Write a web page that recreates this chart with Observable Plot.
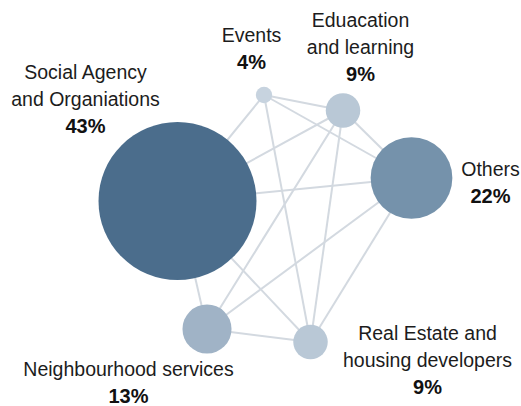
<!DOCTYPE html>
<html>
<head>
<meta charset="utf-8">
<script src="https://cdn.jsdelivr.net/npm/d3@7"></script>
<script src="https://cdn.jsdelivr.net/npm/@observablehq/plot@0.6"></script>
<style>
  html, body { margin: 0; padding: 0; background: #ffffff; }
  #chart svg { display: block; }
</style>
</head>
<body>
<div id="chart"></div>
<script>
// Categories and their shares (%)
const names = ["Social Agency\nand Organiations", "Events", "Eduacation\nand learning", "Others", "Real Estate and\nhousing developers", "Neighbourhood services"];
const ids = ["social", "events", "education", "others", "realestate", "neighbourhood"];
const shares = [43, 4, 9, 22, 9, 13];

// Network layout coordinates (abstract layout units)
const layoutX = [-1.08, -0.215, 0.575, 1.26, 0.25, -0.785];
const layoutY = [0.195, 1.255, 1.10, 0.425, -1.215, -1.085];
// Label anchor coordinates (layout units)
const labelX = [-2.00, -0.34, 0.75, 2.05, 1.42, -1.57];
const labelY = [0.88, 1.52, 1.40, 0.18, -1.73, -1.82];

// Links between categories
const linkSource = ["social", "social", "social", "social", "social", "events", "events", "events", "education", "education", "education", "others", "others", "realestate"];
const linkTarget = ["events", "education", "others", "realestate", "neighbourhood", "education", "others", "realestate", "others", "realestate", "neighbourhood", "realestate", "neighbourhood", "neighbourhood"];

const nodes = ids.map((id, i) => ({id, name: names[i], share: shares[i], x: layoutX[i], y: layoutY[i], lx: labelX[i], ly: labelY[i], pct: shares[i] + "%"}));
const byId = new Map(nodes.map(d => [d.id, d]));
const links = linkSource.map((s, i) => ({s: byId.get(s), t: byId.get(linkTarget[i])}));

const font = "'Liberation Sans', Arial, Helvetica, sans-serif";

const chart = Plot.plot({
  width: 521,
  height: 406,
  margin: 0,
  style: {background: "#ffffff", fontFamily: font},
  x: {domain: [-2.85, 2.36], range: [0, 521], axis: null},
  y: {domain: [-1.86, 2.20], range: [406, 0], axis: null},
  r: {type: "linear", domain: [-0.5, 43], range: [0, 79]},
  color: {type: "linear", domain: [4, 9, 13, 22, 43], range: ["#c7d3df", "#b9c8d6", "#a0b3c6", "#7592ab", "#4b6d8c"]},
  marks: [
    Plot.link(links, {
      x1: d => d.s.x, y1: d => d.s.y, x2: d => d.t.x, y2: d => d.t.y,
      stroke: "#d3d9e0", strokeWidth: 2
    }),
    Plot.dot(nodes, {x: "x", y: "y", r: "share", fill: "share", stroke: null}),
    Plot.text(nodes, {
      x: "lx", y: "ly", text: "name", dy: -27,
      lineAnchor: "bottom", lineHeight: 1.34,
      fontSize: 19.5, fill: "#1c1c1c", textAnchor: "middle", fontFamily: font
    }),
    Plot.text(nodes, {
      x: "lx", y: "ly", text: "pct",
      lineAnchor: "bottom",
      fontSize: 20, fontWeight: "bold", fill: "#111111", textAnchor: "middle", fontFamily: font
    })
  ]
});
document.getElementById("chart").appendChild(chart);
</script>
</body>
</html>
